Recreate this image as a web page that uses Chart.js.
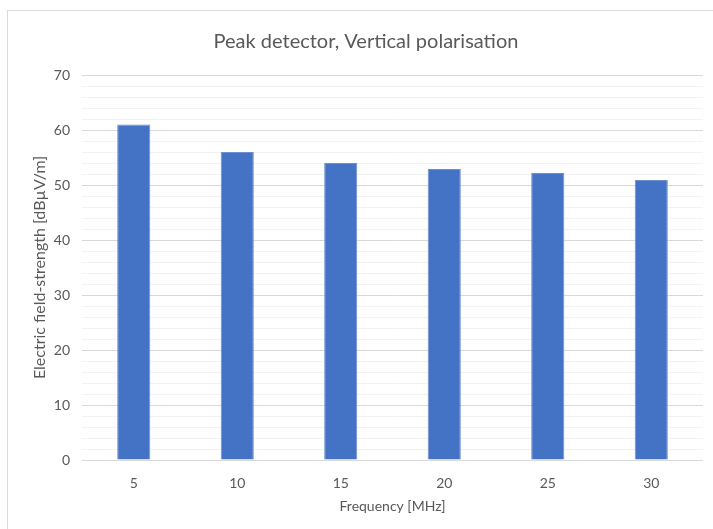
<!DOCTYPE html>
<html>
<head>
<meta charset="utf-8">
<script src="https://cdn.jsdelivr.net/npm/chart.js@4.4.1/dist/chart.umd.min.js"></script>
<style>
  html, body { margin: 0; padding: 0; background: #fff; }
  #wrap { position: relative; width: 713px; height: 529px; overflow: hidden; }
  #frame { position: absolute; left: 7px; top: 10px; width: 730px; height: 540px; border: 1px solid #d9d9d9; }
  #chart { position: absolute; left: 0; top: 0; }
</style>
</head>
<body>
<div id="wrap">
  <div id="frame"></div>
  <canvas id="chart" width="713" height="529"></canvas>
</div>
<script>
const frequencies = ['5', '10', '15', '20', '25', '30'];
const fieldStrength = [61.0, 56.0, 54.0, 52.9, 52.2, 50.9];
const yMin = 0;
const yMax = 70;
const chartTitle = 'Peak detector, Vertical polarisation';

const textColor = '#595959';
const fontFamily = 'Lato, "Open Sans", sans-serif';

// the original frame runs past the right edge, so its title sits right of the canvas centre
const titlePlugin = {
  id: 'frameTitle',
  afterDraw(chart) {
    const ctx = chart.ctx;
    ctx.save();
    ctx.fillStyle = textColor;
    ctx.font = '20px ' + fontFamily;
    ctx.textAlign = 'center';
    ctx.textBaseline = 'middle';
    ctx.fillText(chartTitle, 366, 42);
    ctx.restore();
  },
};

new Chart(document.getElementById('chart'), {
  type: 'bar',
  data: {
    labels: frequencies,
    datasets: [
      {
        label: 'Peak',
        data: fieldStrength,
        backgroundColor: '#4472c4',
        borderColor: '#6d8fd0',
        borderWidth: 1,
        categoryPercentage: 1,
        barPercentage: 0.32,
      },
    ],
  },
  options: {
    responsive: false,
    animation: false,
    layout: { padding: { left: 0, right: 10, top: 75, bottom: 0 } },
    plugins: {
      legend: { display: false },
      tooltip: { enabled: false },
      title: { display: false },
    },
    scales: {
      x: {
        grid: { display: false, drawTicks: false },
        border: { display: false },
        ticks: { color: textColor, font: { family: fontFamily, size: 14 }, padding: 15 },
        title: {
          display: true,
          text: 'Frequency [MHz]',
          color: textColor,
          font: { family: fontFamily, size: 14 },
          padding: { top: 4, bottom: 14 },
        },
        afterFit: (scale) => { scale.height = 69; },
      },
      y: {
        min: yMin,
        max: yMax,
        grid: {
          drawTicks: false,
          color: (ctx) => (ctx.tick && ctx.tick.value % 10 === 0 ? '#d9d9d9' : '#f2f2f2'),
          lineWidth: 1,
        },
        border: { display: false },
        ticks: {
          stepSize: 2,
          autoSkip: false,
          color: textColor,
          font: { family: fontFamily, size: 14 },
          padding: 12,
          callback: (v) => (v % 10 === 0 ? v : ''),
        },
        title: {
          display: true,
          text: 'Electric field-strength [dBµV/m]',
          color: textColor,
          font: { family: fontFamily, size: 16 },
          padding: { top: 30, bottom: 0 },
        },
        afterFit: (scale) => { scale.width = 82; },
      },
    },
  },
  plugins: [titlePlugin],
});
</script>
</body>
</html>
